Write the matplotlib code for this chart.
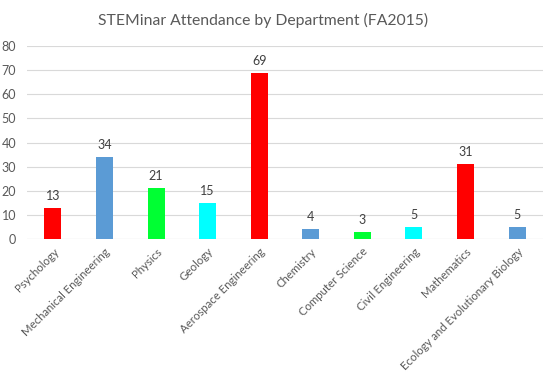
import matplotlib
matplotlib.use("Agg")
import matplotlib.pyplot as plt

departments = ["Psychology", "Mechanical Engineering", "Physics", "Geology",
               "Aerospace Engineering", "Chemistry", "Computer Science",
               "Civil Engineering", "Mathematics", "Ecology and Evolutionary Biology"]
attendance = [13, 34, 21, 15, 69, 4, 3, 5, 31, 5]
colors = ["#ff0000", "#5b9bd5", "#00ff33", "#00ffff", "#ff0000",
          "#5b9bd5", "#00ff33", "#00ffff", "#ff0000", "#5b9bd5"]
yticks = [0, 10, 20, 30, 40, 50, 60, 70, 80]

plt.rcParams['font.family'] = ['Lato', 'DejaVu Sans']
txt = "#595959"

fig = plt.figure(figsize=(5.54, 3.77), dpi=100)
ax = fig.add_axes([0.049, 0.366, 0.931, 0.512])

x = range(len(departments))
bars = ax.bar(x, attendance, width=0.33, color=colors, zorder=3)
for b, v in zip(bars, attendance):
    ax.text(b.get_x() + b.get_width() / 2, v + 2.5, str(v), ha="center",
            va="bottom", fontsize=9, color="#404040")

ax.set_xlim(-0.5, len(departments) - 0.5)
ax.set_ylim(0, 80)
ax.set_yticks(yticks)
ax.yaxis.grid(True, color="#d9d9d9", linewidth=0.8, zorder=0)
for s in ax.spines.values():
    s.set_visible(False)
ax.axhline(0, color="#d9d9d9", linewidth=0.8, zorder=1)
ax.tick_params(axis="y", length=0, labelsize=9, colors=txt, pad=8)
ax.tick_params(axis="x", length=0, labelsize=8.2, colors=txt, pad=5)
ax.set_xticks(list(x))
ax.set_xticklabels(departments, rotation=45, ha="right", rotation_mode="anchor")

fig.suptitle("STEMinar Attendance by Department (FA2015)", x=0.475, y=0.965,
             fontsize=11.3, color=txt)

fig.savefig("out.png", dpi=100, facecolor="white")
